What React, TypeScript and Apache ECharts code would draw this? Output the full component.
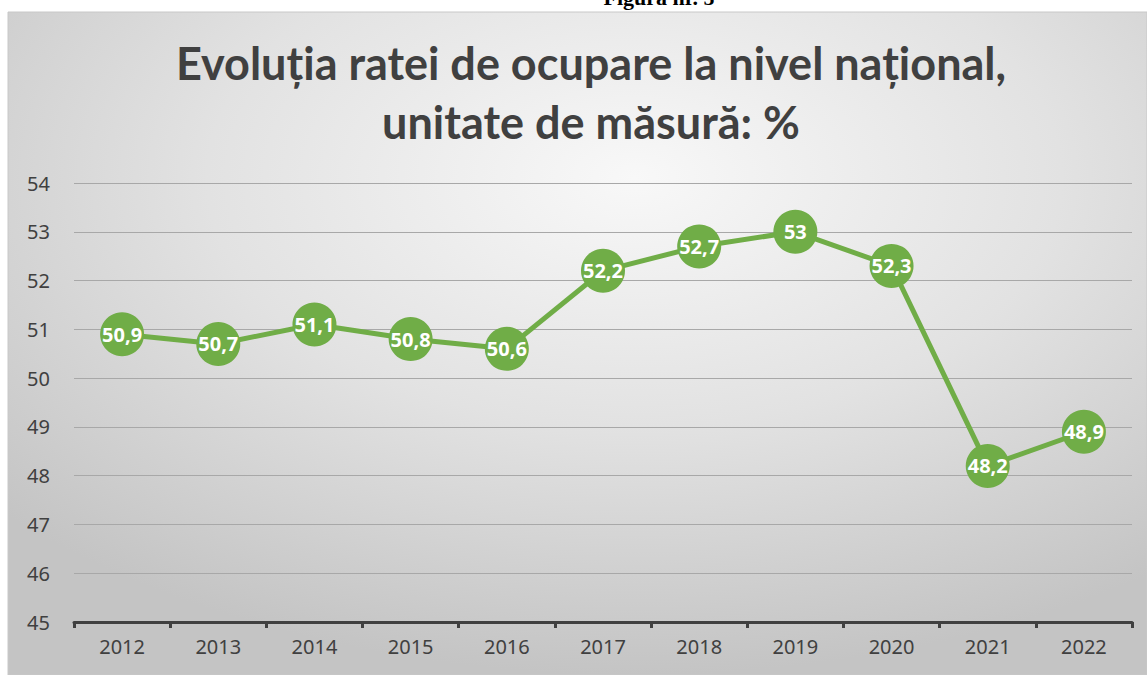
import React, { useEffect, useRef } from "react";
import * as echarts from "echarts";

const categories = ["2012", "2013", "2014", "2015", "2016", "2017", "2018", "2019", "2020", "2021", "2022"];
const rates = [50.9, 50.7, 51.1, 50.8, 50.6, 52.2, 52.7, 53, 52.3, 48.2, 48.9];
const titleLines = ["Evoluția ratei de ocupare la nivel național,", "unitate de măsură: %"];
const figureCaption = "Figura nr. 5";

export default function App() {
  const ref = useRef<HTMLDivElement>(null);
  useEffect(() => {
    if (!ref.current) return;
    const chart = echarts.init(ref.current, undefined, { renderer: "svg" });
    chart.setOption({
      animation: false,
      backgroundColor: "#ffffff",
      graphic: [
        {
          type: "rect",
          z: -10,
          silent: true,
          shape: { x: 8, y: 12, width: 1139, height: 663 },
          style: {
            fill: new echarts.graphic.RadialGradient(0.55, 0.25, 0.75, [
              { offset: 0, color: "#f8f8f8" },
              { offset: 0.5, color: "#e2e2e2" },
              { offset: 1, color: "#c4c4c4" },
            ]),
            stroke: "#c8c8c8",
            lineWidth: 1,
          },
        },
        {
          type: "text",
          x: 659,
          y: 8,
          silent: true,
          style: {
            text: figureCaption,
            fill: "#000000",
            font: "bold 22px 'Liberation Serif', serif",
            align: "center",
            verticalAlign: "bottom",
          },
        },
      ],
      title: {
        text: titleLines.join("\n"),
        left: 586,
        top: 28,
        textAlign: "center",
        textStyle: {
          color: "#404040",
          fontFamily: "Lato, sans-serif",
          fontWeight: "bold",
          fontSize: 45,
          lineHeight: 59,
        },
      },
      grid: { left: 74, right: 15, top: 183, bottom: 53, containLabel: false },
      xAxis: {
        type: "category",
        data: categories,
        boundaryGap: true,
        axisLine: { show: true, lineStyle: { color: "#404040", width: 3 } },
        axisTick: { show: true, length: 6, lineStyle: { color: "#404040", width: 3 } },
        axisLabel: { color: "#404040", fontSize: 20, fontFamily: "'Noto Sans', sans-serif", margin: 14 },
      },
      yAxis: {
        type: "value",
        min: 45,
        max: 54,
        interval: 1,
        axisLine: { show: false },
        axisTick: { show: false },
        axisLabel: { color: "#404040", fontSize: 20, fontFamily: "'Noto Sans', sans-serif", margin: 24 },
        splitLine: { lineStyle: { color: "#a8a8a8", width: 1 } },
      },
      series: [
        {
          type: "line",
          data: rates,
          symbol: "circle",
          symbolSize: 44,
          lineStyle: { color: "#70ad47", width: 5 },
          itemStyle: { color: "#70ad47" },
          label: {
            show: true,
            position: "inside",
            color: "#ffffff",
            fontWeight: "bold",
            fontSize: 20,
            fontFamily: "'Noto Sans', sans-serif",
            formatter: (p: any) => String(p.value).replace(".", ","),
          },
        },
      ],
    });
    return () => chart.dispose();
  }, []);
  return (
    <div
      ref={ref}
      style={{ position: "absolute", left: 0, top: 0, width: 1147, height: 675 }}
    />
  );
}
